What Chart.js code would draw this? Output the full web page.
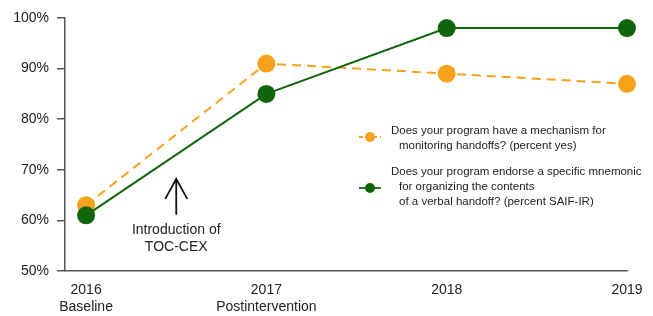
<!DOCTYPE html>
<html>
<head>
<meta charset="utf-8">
<script src="https://cdn.jsdelivr.net/npm/chart.js@4"></script>
<style>
  html, body { margin: 0; padding: 0; background: #fff; }
  #wrap { width: 653px; height: 316px; }
</style>
</head>
<body>
<div id="wrap"><canvas id="myChart"></canvas></div>
<script>
// data
const years = [2016, 2017, 2018, 2019];
const yearLabels = [["2016", "Baseline"], ["2017", "Postintervention"], ["2018"], ["2019"]];
const monitoring = [63, 91, 89, 87];
const mnemonic = [61, 85, 98, 98];
const yTicks = [50, 60, 70, 80, 90, 100];

const seriesNames = [
  ["Does your program have a mechanism for", "monitoring handoffs? (percent yes)"],
  ["Does your program endorse a specific mnemonic", "for organizing the contents", "of a verbal handoff? (percent SAIF-IR)"]
];

const ORANGE = "#F7A21B";
const GREEN = "#10650C";
const FONT = "'Liberation Sans', Arial, Helvetica, sans-serif";

// arrow + text for the TOC-CEX note
const notePlugin = {
  id: "note",
  afterDatasetsDraw(chart) {
    const { ctx, scales } = chart;
    const x = scales.x.getPixelForValue(2016.5);
    const yTop = scales.y.getPixelForValue(68.2);
    const yBot = scales.y.getPixelForValue(61.1);
    ctx.save();
    ctx.strokeStyle = "#111";
    ctx.lineWidth = 1.8;
    ctx.beginPath();
    ctx.moveTo(x, yBot);
    ctx.lineTo(x, yTop);
    ctx.moveTo(x - 11, yTop + 20);
    ctx.lineTo(x, yTop);
    ctx.lineTo(x + 11, yTop + 20);
    ctx.stroke();

    ctx.fillStyle = "#222";
    ctx.font = "14px " + FONT;
    ctx.textAlign = "center";
    ctx.textBaseline = "middle";
    ctx.fillText("Introduction of", x, scales.y.getPixelForValue(58.1));
    ctx.fillText("TOC-CEX", x, scales.y.getPixelForValue(54.8));
    ctx.restore();
  }
};

// legend on the right side, with indented wrapped lines
const legendPlugin = {
  id: "sideLegend",
  afterDraw(chart) {
    const { ctx } = chart;
    const entries = [
      { color: ORANGE, dash: [4, 3], y: 137, lines: seriesNames[0], textY: 131 },
      { color: GREEN, dash: [], y: 188, lines: seriesNames[1], textY: 172 }
    ];
    ctx.save();
    entries.forEach(e => {
      ctx.strokeStyle = e.color;
      ctx.lineWidth = 1.8;
      ctx.setLineDash(e.dash);
      ctx.beginPath();
      ctx.moveTo(359, e.y);
      ctx.lineTo(381, e.y);
      ctx.stroke();
      ctx.setLineDash([]);
      ctx.fillStyle = e.color;
      ctx.beginPath();
      ctx.arc(370, e.y, 5, 0, Math.PI * 2);
      ctx.fill();

      ctx.fillStyle = "#222";
      ctx.font = "11.5px " + FONT;
      ctx.textAlign = "left";
      ctx.textBaseline = "middle";
      e.lines.forEach((t, i) => {
        ctx.fillText(t, i === 0 ? 391 : 399, e.textY + i * 15);
      });
    });
    ctx.restore();
  }
};

const chart = new Chart(document.getElementById("myChart"), {
  type: "line",
  plugins: [notePlugin, legendPlugin],
  data: {
    datasets: [
      {
        label: seriesNames[0].join(" "),
        data: years.map((y, i) => ({ x: y, y: monitoring[i] })),
        borderColor: ORANGE,
        backgroundColor: ORANGE,
        borderWidth: 2,
        borderDash: [9, 6],
        pointRadius: 9,
        pointBorderWidth: 0,
        clip: false,
        order: 1
      },
      {
        label: seriesNames[1].join(" "),
        data: years.map((y, i) => ({ x: y, y: mnemonic[i] })),
        borderColor: GREEN,
        backgroundColor: GREEN,
        borderWidth: 2,
        pointRadius: 9,
        pointBorderWidth: 0,
        clip: false,
        order: 0
      }
    ]
  },
  options: {
    animation: false,
    responsive: true,
    maintainAspectRatio: false,
    layout: { padding: { left: 6, right: 26, top: 18, bottom: 0 } },
    plugins: {
      legend: { display: false },
      tooltip: { enabled: false }
    },
    scales: {
      x: {
        type: "linear",
        min: 2015.883,
        max: 2019,
        afterBuildTicks: (axis) => { axis.ticks = years.map(v => ({ value: v })); },
        afterFit: (axis) => { axis.height = 45; },
        ticks: {
          color: "#222",
          font: { family: FONT, size: 14, lineHeight: 1.25 },
          padding: 10,
          maxRotation: 0,
          autoSkip: false,
          callback: (v) => yearLabels[years.indexOf(v)]
        },
        grid: { display: false, drawTicks: false },
        border: { display: true, color: "#555", width: 1.5 }
      },
      y: {
        min: 50,
        max: 100,
        afterBuildTicks: (axis) => { axis.ticks = yTicks.map(v => ({ value: v })); },
        afterFit: (axis) => { axis.width = 59; },
        ticks: {
          color: "#222",
          font: { family: FONT, size: 14 },
          padding: 8,
          callback: (v) => v + "%"
        },
        grid: { drawOnChartArea: false, drawTicks: true, tickLength: 8, color: "#555", lineWidth: 1.5 },
        border: { display: true, color: "#555", width: 1.5 }
      }
    }
  }
});
</script>
</body>
</html>
